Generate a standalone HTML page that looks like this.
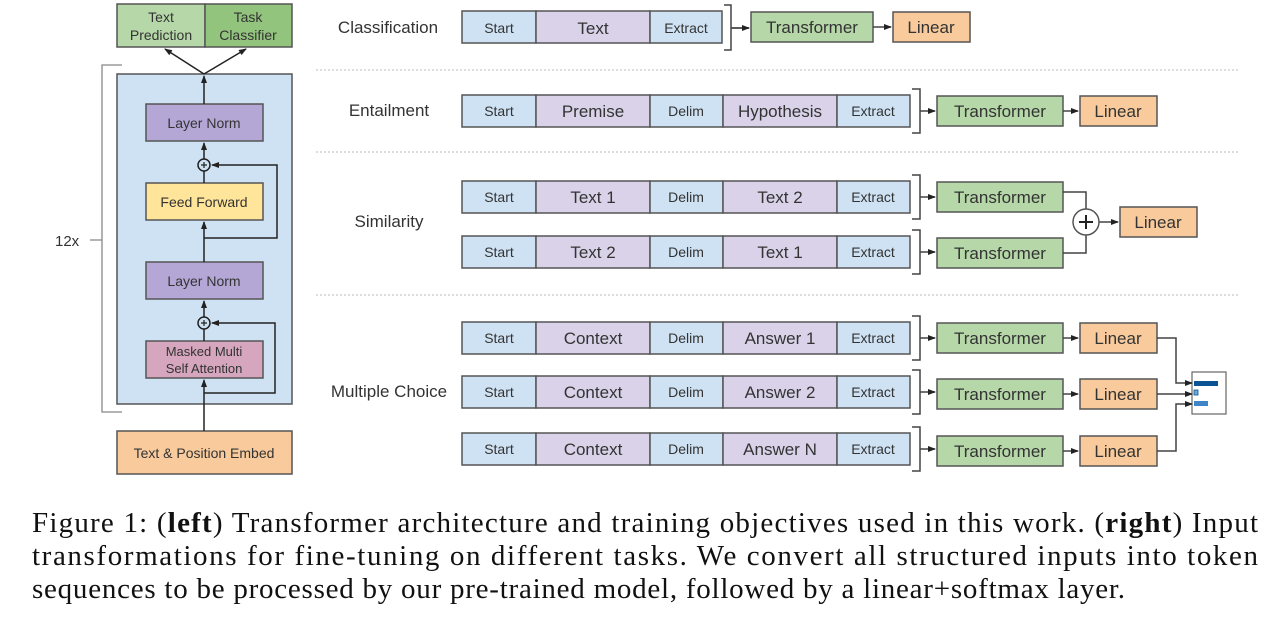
<!DOCTYPE html>
<html><head><meta charset="utf-8"><style>
html,body{margin:0;padding:0;background:#fff;width:1281px;height:620px;overflow:hidden}
svg text{font-family:"Liberation Sans",sans-serif;fill:#333}
</style></head><body>
<svg width="1281" height="620" viewBox="0 0 1281 620" xmlns="http://www.w3.org/2000/svg">
<defs>
<marker id="a" markerWidth="8" markerHeight="8" refX="7" refY="4" orient="auto" markerUnits="userSpaceOnUse"><path d="M0,1 L8,4 L0,7 z" fill="#222"/></marker>
</defs>
<g stroke="#555" stroke-width="1.5">
<rect x="117" y="4" width="88" height="43" fill="#b6d7a8"/>
<rect x="205" y="4" width="87" height="43" fill="#93c47d"/>
<rect x="117" y="74" width="175" height="330" fill="#cfe2f3"/>
<rect x="146" y="104" width="117" height="37" fill="#b4a7d6"/>
<rect x="146" y="183" width="117" height="37" fill="#ffe599"/>
<rect x="146" y="262" width="117" height="37" fill="#b4a7d6"/>
<rect x="146" y="341" width="117" height="37" fill="#d5a6bd"/>
<rect x="117" y="431" width="175" height="43" fill="#f9cb9c"/>
</g>
<g stroke="#222" stroke-width="1.5" fill="none">
<path d="M204,431 V380" marker-end="url(#a)"/>
<path d="M204,393 H275 V323 H212" marker-end="url(#a)"/>
<path d="M204,341 V329"/>
<path d="M204,317 V301" marker-end="url(#a)"/>
<path d="M204,262 V222" marker-end="url(#a)"/>
<path d="M204,238 H277 V165 H212" marker-end="url(#a)"/>
<path d="M204,183 V171"/>
<path d="M204,159 V143" marker-end="url(#a)"/>
<path d="M204,104 V76" marker-end="url(#a)"/>
<path d="M204,74 L165,49" marker-end="url(#a)"/>
<path d="M204,74 L246,49" marker-end="url(#a)"/>
<circle cx="204" cy="165" r="6" fill="#cfe2f3"/>
<circle cx="204" cy="323" r="6" fill="#cfe2f3"/>
<path d="M201,165h6M204,162v6M201,323h6M204,320v6" stroke-width="1.2"/>
</g>
<path d="M122,65 H102 V412 H122 M102,240 H90" stroke="#888" stroke-width="1.3" fill="none"/>
<text x="55" y="246" font-size="15" fill="#555">12x</text>
<g font-size="14" text-anchor="middle">
<text x="161" y="22">Text</text><text x="161" y="40">Prediction</text>
<text x="248" y="22">Task</text><text x="248" y="40">Classifier</text>
<text x="204" y="128">Layer Norm</text>
<text x="204" y="207">Feed Forward</text>
<text x="204" y="286">Layer Norm</text>
<text x="204" y="356" font-size="13">Masked Multi</text><text x="204" y="373" font-size="13">Self Attention</text>
<text x="204" y="458">Text &amp; Position Embed</text>
</g>
<g stroke="#bbb" stroke-width="1" stroke-dasharray="2,2">
<path d="M316,70H1238M316,152H1238M316,295H1238"/>
</g>
<g font-size="17" text-anchor="middle">
<text x="388" y="33">Classification</text>
<text x="389" y="116">Entailment</text>
<text x="389" y="227">Similarity</text>
<text x="389" y="397">Multiple Choice</text>
</g>
<g stroke="#555" stroke-width="1.5">
<rect x="462" y="11" width="74" height="32" fill="#cfe2f3"/><rect x="536" y="11" width="114" height="32" fill="#d9d2e9"/><rect x="650" y="11" width="72" height="32" fill="#cfe2f3"/>
<g id="r5">
<rect x="462" y="95" width="74" height="32" fill="#cfe2f3"/><rect x="536" y="95" width="114" height="32" fill="#d9d2e9"/><rect x="650" y="95" width="73" height="32" fill="#cfe2f3"/><rect x="723" y="95" width="114" height="32" fill="#d9d2e9"/><rect x="837" y="95" width="73" height="32" fill="#cfe2f3"/>
</g>
<use href="#r5" y="86"/><use href="#r5" y="141"/><use href="#r5" y="227"/><use href="#r5" y="281"/><use href="#r5" y="338"/>
<rect x="751" y="12" width="122" height="30" fill="#b6d7a8"/><rect x="893" y="12" width="77" height="30" fill="#f9cb9c"/>
<rect x="937" y="96" width="126" height="30" fill="#b6d7a8"/><rect x="1080" y="96" width="77" height="30" fill="#f9cb9c"/>
<rect x="937" y="182" width="126" height="30" fill="#b6d7a8"/><rect x="937" y="238" width="126" height="30" fill="#b6d7a8"/>
<rect x="1120" y="207" width="77" height="30" fill="#f9cb9c"/>
<rect x="937" y="323" width="126" height="30" fill="#b6d7a8"/><rect x="1080" y="323" width="77" height="30" fill="#f9cb9c"/>
<rect x="937" y="379" width="126" height="30" fill="#b6d7a8"/><rect x="1080" y="379" width="77" height="30" fill="#f9cb9c"/>
<rect x="937" y="436" width="126" height="30" fill="#b6d7a8"/><rect x="1080" y="436" width="77" height="30" fill="#f9cb9c"/>
<rect x="1192" y="372" width="34" height="42" fill="#fff" stroke="#666" stroke-width="1.2"/>
</g>
<rect x="1194" y="381" width="24" height="5" fill="#0b5394"/>
<rect x="1194" y="390" width="4" height="5" fill="#6fa8dc" stroke="#0b5394" stroke-width="0.8"/>
<rect x="1194" y="401" width="14" height="5" fill="#3d85c6"/>
<g stroke="#444" stroke-width="1.5" fill="none">
<path d="M724,5H731V50H724M731,28H749" />
<path d="M873,27H891" marker-end="url(#a)"/>
<path d="M731,28H749" marker-end="url(#a)"/>
<g id="br">
<path d="M912,89H920V133H912M920,111H935" marker-end="url(#a)"/>
</g>
<use href="#br" y="86"/><use href="#br" y="141"/><use href="#br" y="227"/><use href="#br" y="281"/><use href="#br" y="338"/>
<path d="M1063,111H1078" marker-end="url(#a)"/>
<path d="M1063,338H1078" marker-end="url(#a)"/><path d="M1063,394H1078" marker-end="url(#a)"/><path d="M1063,451H1078" marker-end="url(#a)"/>
<path d="M1063,192H1086V209M1063,253H1086V235"/>
<path d="M1099,222H1118" marker-end="url(#a)"/>
<path d="M1157,338H1176V383H1192" marker-end="url(#a)"/>
<path d="M1157,394H1192" marker-end="url(#a)"/>
<path d="M1157,451H1176V404H1192" marker-end="url(#a)"/>
<circle cx="1086" cy="222" r="13" fill="#fff" stroke="#555"/>
<path d="M1079,222h14M1086,215v14" stroke="#222" stroke-width="2"/>
</g>
<g text-anchor="middle" font-size="14">
<text x="499" y="33">Start</text><text x="593" y="34" font-size="17">Text</text><text x="686" y="33">Extract</text>
<text x="499" y="116">Start</text><text x="593" y="117" font-size="17">Premise</text><text x="686" y="116">Delim</text><text x="780" y="117" font-size="17">Hypothesis</text><text x="873" y="116">Extract</text>
<text x="499" y="202">Start</text><text x="593" y="203" font-size="17">Text 1</text><text x="686" y="202">Delim</text><text x="780" y="203" font-size="17">Text 2</text><text x="873" y="202">Extract</text>
<text x="499" y="257">Start</text><text x="593" y="258" font-size="17">Text 2</text><text x="686" y="257">Delim</text><text x="780" y="258" font-size="17">Text 1</text><text x="873" y="257">Extract</text>
<text x="499" y="343">Start</text><text x="593" y="344" font-size="17">Context</text><text x="686" y="343">Delim</text><text x="780" y="344" font-size="17">Answer 1</text><text x="873" y="343">Extract</text>
<text x="499" y="397">Start</text><text x="593" y="398" font-size="17">Context</text><text x="686" y="397">Delim</text><text x="780" y="398" font-size="17">Answer 2</text><text x="873" y="397">Extract</text>
<text x="499" y="454">Start</text><text x="593" y="455" font-size="17">Context</text><text x="686" y="454">Delim</text><text x="780" y="455" font-size="17">Answer N</text><text x="873" y="454">Extract</text>
</g>
<g text-anchor="middle" font-size="17">
<text x="812" y="33">Transformer</text><text x="931" y="33">Linear</text>
<text x="1000" y="117">Transformer</text><text x="1118" y="117">Linear</text>
<text x="1000" y="203">Transformer</text><text x="1000" y="259">Transformer</text><text x="1158" y="228">Linear</text>
<text x="1000" y="344">Transformer</text><text x="1118" y="344">Linear</text>
<text x="1000" y="400">Transformer</text><text x="1118" y="400">Linear</text>
<text x="1000" y="457">Transformer</text><text x="1118" y="457">Linear</text>
</g>
<g font-size="29" fill="#111">
<text x="32" y="532" textLength="1226" lengthAdjust="spacing" style="font-family:'Liberation Serif',serif;fill:#111">Figure 1: (<tspan font-weight="bold">left</tspan>) Transformer architecture and training objectives used in this work. (<tspan font-weight="bold">right</tspan>) Input</text>
<text x="32" y="565" textLength="1226" lengthAdjust="spacing" style="font-family:'Liberation Serif',serif;fill:#111">transformations for fine-tuning on different tasks. We convert all structured inputs into token</text>
<text x="32" y="598" textLength="1093" lengthAdjust="spacing" style="font-family:'Liberation Serif',serif;fill:#111">sequences to be processed by our pre-trained model, followed by a linear+softmax layer.</text>
</g>
</svg>
</body></html>
